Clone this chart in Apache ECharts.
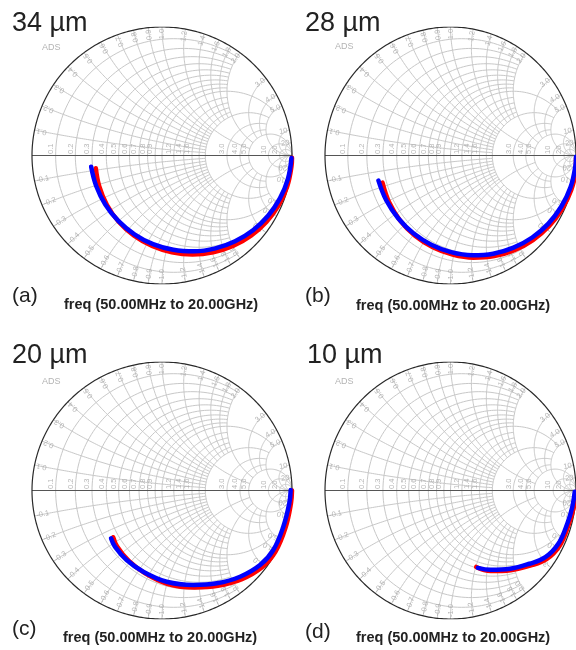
<!DOCTYPE html>
<html><head><meta charset="utf-8">
<script src="https://cdn.jsdelivr.net/npm/echarts@6/dist/echarts.min.js"></script>
<style>html,body{margin:0;padding:0;background:#fff}#c{width:576px;height:650px}</style>
</head><body><div id="c"></div><script>
// ---- Text ----
const panelTitles = ['34 µm', '28 µm', '20 µm', '10 µm'];
const panelTags = ['(a)', '(b)', '(c)', '(d)'];
const sweepText = 'freq (50.00MHz to 20.00GHz)';
const brandText = 'ADS';

// ---- Smith chart tick values / labels ----
const gridR = [0.1,0.2,0.3,0.4,0.5,0.6,0.7,0.8,0.9,1.0,1.2,1.4,1.6,1.8,2.0,3.0,4.0,5.0,10,20];
const gridX = [0.1,0.2,0.3,0.4,0.5,0.6,0.7,0.8,0.9,1.0,1.2,1.4,1.6,1.8,2.0,3.0,4.0,5.0,10,20];
const edgeTickValues = [0.1,0.2,0.3,0.4,0.5,0.6,0.7,0.8,0.9,1.0,1.2,1.4,1.6,1.8,2.0,3.0,4.0,5.0,10,20];
const edgeTickLabels = ['0.1','0.2','0.3','0.4','0.5','0.6','0.7','0.8','0.9','1.0','1.2','1.4','1.6','1.8','2.0','3.0','4.0','5.0','10','20'];
const axisTickValues = [0.1,0.2,0.3,0.4,0.5,0.6,0.7,0.8,0.9,1.2,1.4,1.6,3.0,4.0,5.0,10,20];
const axisTickLabels = ['0.1','0.2','0.3','0.4','0.5','0.6','0.7','0.8','0.9','1.2','1.4','1.6','3.0','4.0','5.0','10','20'];

// ---- Data: reflection coefficient [Re, Im] ----
const redA = [[-0.509,-0.100],[-0.483,-0.238],[-0.423,-0.385],[-0.333,-0.516],[-0.215,-0.624],[-0.076,-0.704],[0.076,-0.753],[0.235,-0.770],[0.394,-0.753],[0.546,-0.704],[0.685,-0.624],[0.803,-0.517],[0.897,-0.388],[0.963,-0.241],[0.996,-0.085],[1.0,-0.018]];
const blueA = [[-0.545,-0.087],[-0.507,-0.235],[-0.436,-0.381],[-0.336,-0.509],[-0.212,-0.613],[-0.069,-0.690],[0.087,-0.734],[0.249,-0.746],[0.410,-0.723],[0.562,-0.667],[0.700,-0.581],[0.816,-0.469],[0.907,-0.334],[0.968,-0.184],[0.996,-0.019]];
const redB = [[-0.542,-0.211],[-0.488,-0.366],[-0.401,-0.507],[-0.283,-0.625],[-0.141,-0.714],[0.017,-0.771],[0.182,-0.795],[0.349,-0.783],[0.510,-0.737],[0.657,-0.658],[0.785,-0.551],[0.888,-0.419],[0.962,-0.269],[0.998,-0.106],[1.0,-0.02]];
const blueB = [[-0.574,-0.195],[-0.512,-0.348],[-0.417,-0.488],[-0.296,-0.605],[-0.153,-0.694],[0.005,-0.752],[0.172,-0.776],[0.340,-0.764],[0.502,-0.717],[0.651,-0.638],[0.780,-0.530],[0.883,-0.397],[0.957,-0.246],[0.995,-0.082],[1.0,-0.01]];
const redC = [[-0.375,-0.364],[-0.345,-0.435],[-0.255,-0.548],[-0.13,-0.645],[0.045,-0.728],[0.25,-0.755],[0.43,-0.742],[0.615,-0.69],[0.77,-0.598],[0.872,-0.478],[0.95,-0.29],[0.992,-0.10],[1.0,0.0]];
const blueC = [[-0.392,-0.372],[-0.362,-0.437],[-0.272,-0.541],[-0.144,-0.632],[0.036,-0.71],[0.241,-0.735],[0.421,-0.722],[0.60,-0.671],[0.754,-0.58],[0.856,-0.463],[0.933,-0.282],[0.979,-0.10],[0.99,0.004]];
const redD = [[0.205,-0.595],[0.32,-0.627],[0.48,-0.62],[0.635,-0.585],[0.765,-0.535],[0.87,-0.43],[0.94,-0.27],[0.98,-0.14],[1.0,-0.01]];
const blueD = [[0.218,-0.602],[0.321,-0.617],[0.475,-0.609],[0.629,-0.57],[0.756,-0.519],[0.859,-0.415],[0.931,-0.257],[0.97,-0.13],[0.99,-0.01]];

const redSets = [redA, redB, redC, redD];
const blueSets = [blueA, blueB, blueC, blueD];

// ---- Smith geometry helpers ----
function gamma(r, x) {
  const den = (r + 1) * (r + 1) + x * x;
  return [(r * r - 1 + x * x) / den, (2 * x) / den];
}
function rXmax(r) {
  if (r < 1) return 2;
  if (r === 1 || r === 2) return 5;
  if (r < 2) return 2;
  if (r < 5) return 5;
  return Infinity;
}
function xRmax(x) {
  if (x < 1) return 2;
  if (x === 1 || x === 2) return 5;
  if (x < 2) return 2;
  if (x < 5) return 5;
  return Infinity;
}
function rArc(r, xmax) {
  const c = r / (1 + r), rho = 1 / (1 + r);
  let t1 = 0;
  if (isFinite(xmax)) { const p = gamma(r, xmax); t1 = Math.atan2(p[1], p[0] - c); }
  const t2 = 2 * Math.PI - t1, N = 120, pts = [];
  for (let i = 0; i <= N; i++) {
    const t = t1 + (t2 - t1) * i / N;
    pts.push([c + rho * Math.cos(t), rho * Math.sin(t)]);
  }
  return pts;
}
function xArc(x, rmax) {
  const cy = 1 / x, rho = 1 / x;
  const p0 = gamma(0, x);
  const p1 = isFinite(rmax) ? gamma(rmax, x) : [1, 0];
  const f0 = Math.atan2(p0[1] - cy, p0[0] - 1);
  let f1 = Math.atan2(p1[1] - cy, p1[0] - 1);
  while (f1 < f0) f1 += 2 * Math.PI;
  const N = 80, pts = [];
  for (let i = 0; i <= N; i++) {
    const f = f0 + (f1 - f0) * i / N;
    pts.push([1 + rho * Math.cos(f), cy + rho * Math.sin(f)]);
  }
  return pts;
}
const gridArcs = [];
gridR.forEach(r => gridArcs.push(rArc(r, rXmax(r))));
gridX.forEach(x => { const a = xArc(x, xRmax(x)); gridArcs.push(a); gridArcs.push(a.map(p => [p[0], -p[1]])); });
const unitCircle = [];
for (let i = 0; i <= 360; i++) { const t = i * Math.PI / 180; unitCircle.push([Math.cos(t), Math.sin(t)]); }

const labelFont = { fontSize: 7.5, color: '#a4a4a4', fontFamily: 'Liberation Sans, Arial, sans-serif' };
const edgeLabelData = [];
edgeTickValues.forEach((v, i) => {
  [1, -1].forEach(s => {
    const p = gamma(0, s * v);
    const th = Math.atan2(p[1], p[0]) * 180 / Math.PI;
    const k = 0.985;
    edgeLabelData.push({
      value: [p[0] * k, p[1] * k],
      label: Object.assign({ show: true, position: 'inside', formatter: (s < 0 ? '-' : '') + edgeTickLabels[i],
        rotate: s > 0 ? th : th + 180, align: s > 0 ? 'right' : 'left', verticalAlign: 'middle' }, labelFont)
    });
  });
});
const axisLabelData = axisTickValues.map((v, i) => ({
  value: [gamma(v, 0)[0] - 0.006, 0.012],
  label: Object.assign({ show: true, position: 'inside', formatter: axisTickLabels[i], rotate: 90, align: 'left', verticalAlign: 'bottom' }, labelFont)
}));

// ---- Layout ----
const layout = [{ l: 32, t: 27 }, { l: 325, t: 27 }, { l: 32, t: 362 }, { l: 325, t: 362 }];
const W = 260, H = 257;
const textPos = [
  { title: [12, 24], ads: [42, 48], tag: [12, 296], freq: [64, 305] },
  { title: [305, 24], ads: [335, 47], tag: [305, 296], freq: [356, 306] },
  { title: [12, 356], ads: [42, 382], tag: [12, 629], freq: [63, 638] },
  { title: [307, 356], ads: [335, 382], tag: [305, 632], freq: [356, 638] }
];

const grids = [], xAxes = [], yAxes = [], series = [], graphics = [];
layout.forEach((g, i) => {
  grids.push({ left: g.l, top: g.t, width: W, height: H, containLabel: false });
  xAxes.push({ type: 'value', gridIndex: i, min: -1, max: 1, show: false });
  yAxes.push({ type: 'value', gridIndex: i, min: -1, max: 1, show: false });
  const ax = { xAxisIndex: i, yAxisIndex: i };
  series.push(Object.assign({ type: 'lines', coordinateSystem: 'cartesian2d', polyline: true, silent: true,
    lineStyle: { color: '#c8c8c8', width: 1, opacity: 1 }, data: gridArcs.map(c => ({ coords: c })) }, ax));
  series.push(Object.assign({ type: 'lines', coordinateSystem: 'cartesian2d', polyline: true, silent: true,
    lineStyle: { color: '#555', width: 1.1, opacity: 1 }, data: [{ coords: [[-1, 0], [1, 0]] }] }, ax));
  series.push(Object.assign({ type: 'lines', coordinateSystem: 'cartesian2d', polyline: true, silent: true,
    lineStyle: { color: '#2a2a2a', width: 1.2, opacity: 1 }, data: [{ coords: unitCircle }] }, ax));
  series.push(Object.assign({ type: 'scatter', symbolSize: 0, silent: true, data: edgeLabelData }, ax));
  series.push(Object.assign({ type: 'scatter', symbolSize: 0, silent: true, data: axisLabelData }, ax));
  series.push(Object.assign({ type: 'line', data: redSets[i], smooth: 0.4, symbol: 'none', silent: true,
    lineStyle: { color: '#ff0000', width: 4.5, cap: 'round' }, z: 5 }, ax));
  series.push(Object.assign({ type: 'line', data: blueSets[i], smooth: 0.4, symbol: 'none', silent: true,
    lineStyle: { color: '#0000ff', width: 4.5, cap: 'round' }, z: 6 }, ax));
  const tp = textPos[i];
  const ff = 'Liberation Sans, Arial, Helvetica, sans-serif';
  graphics.push({ type: 'text', x: tp.title[0], y: tp.title[1], style: { text: panelTitles[i], font: '27px ' + ff, fill: '#222', verticalAlign: 'middle' } });
  graphics.push({ type: 'text', x: tp.ads[0], y: tp.ads[1], style: { text: brandText, font: '9px ' + ff, fill: '#b4b4b4', verticalAlign: 'middle' } });
  graphics.push({ type: 'text', x: tp.tag[0], y: tp.tag[1], style: { text: panelTags[i], font: '21px ' + ff, fill: '#222', verticalAlign: 'middle' } });
  graphics.push({ type: 'text', x: tp.freq[0], y: tp.freq[1], style: { text: sweepText, font: 'bold 14.5px ' + ff, fill: '#222', verticalAlign: 'middle' } });
});

const chart = echarts.init(document.getElementById('c'), null, { renderer: 'canvas' });
chart.setOption({
  animation: false,
  backgroundColor: '#fff',
  grid: grids, xAxis: xAxes, yAxis: yAxes, series: series, graphic: graphics
});
</script></body></html>
